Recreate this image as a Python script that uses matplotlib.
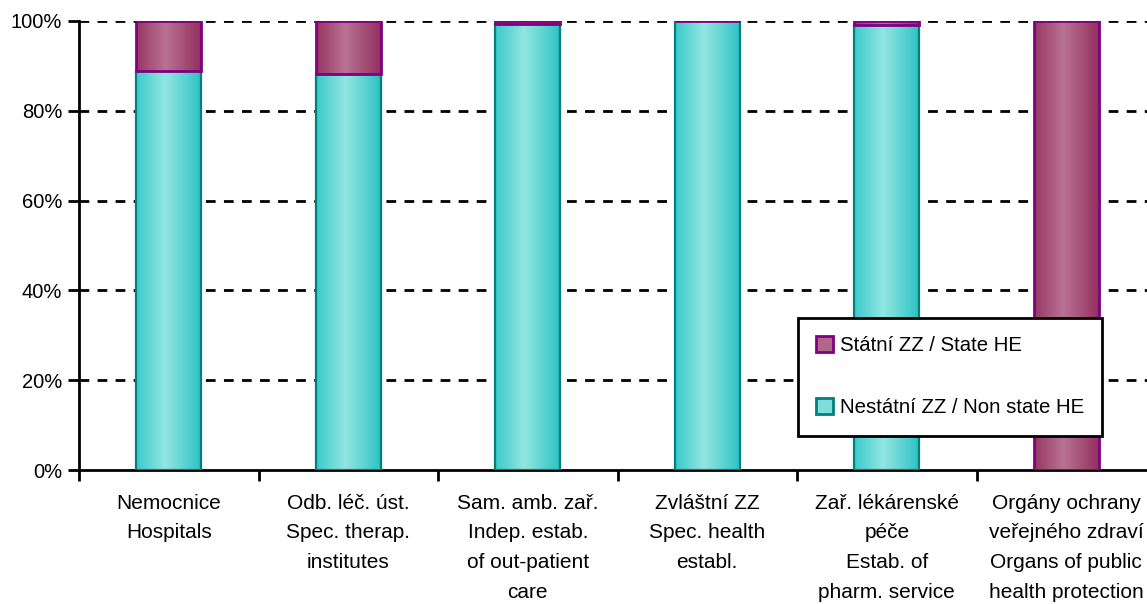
import numpy as np
import matplotlib.pyplot as plt
from matplotlib.colors import LinearSegmentedColormap
from matplotlib.patches import Patch
from matplotlib.ticker import FixedLocator, PercentFormatter

plt.rcParams['font.family'] = ['Liberation Sans', 'DejaVu Sans']

categories = [
    "Nemocnice\nHospitals",
    "Odb. léč. úst.\nSpec. therap.\ninstitutes",
    "Sam. amb. zař.\nIndep. estab.\nof out-patient\ncare",
    "Zvláštní ZZ\nSpec. health\nestabl.",
    "Zař. lékárenské\npéče\nEstab. of\npharm. service",
    "Orgány ochrany\nveřejného zdraví\nOrgans of public\nhealth protection",
]
non_state = [88.9, 88.2, 99.4, 100.0, 99.1, 0.0]
state = [11.1, 11.8, 0.6, 0.0, 0.9, 100.0]
labels = ["Státní ZZ / State HE", "Nestátní ZZ / Non state HE"]

cyan_cmap = LinearSegmentedColormap.from_list(
    "cy", [(0, "#3ACACA"), (0.45, "#92E6E2"), (0.9, "#40CACA"), (1, "#2EC0C0")])
purple_cmap = LinearSegmentedColormap.from_list(
    "pu", [(0, "#963562"), (0.45, "#B97294"), (0.9, "#9A3C68"), (1, "#913060")])

fig = plt.figure(figsize=(11.47, 6.04), dpi=100)
ax = fig.add_axes([79 / 1147, 134 / 604, 1077 / 1147, 449 / 604])

x = np.arange(len(categories)) + 0.5
width = 0.362
grad = np.linspace(0, 1, 256).reshape(1, -1)


def gradient_bars(bars, cmap):
    for b in bars:
        if b.get_height() <= 0:
            continue
        x0, y0 = b.get_x(), b.get_y()
        im = ax.imshow(grad, cmap=cmap, aspect="auto", zorder=b.get_zorder() - 0.1,
                       extent=[x0, x0 + b.get_width(), y0, y0 + b.get_height()])
        im.set_clip_path(b)


b1 = ax.bar(x, non_state, width, facecolor="none", edgecolor="#008080",
            linewidth=1.6, zorder=3)
b2 = ax.bar(x, state, width, bottom=non_state, facecolor="none",
            edgecolor="#800080", linewidth=2, zorder=4)
gradient_bars(b1, cyan_cmap)
gradient_bars(b2, purple_cmap)

ax.set_xlim(0, 6)
ax.set_ylim(0, 100)

for y in [20, 40, 60, 80, 100]:
    ax.axhline(y, color="black", linewidth=2, linestyle=(0, (3.5, 3)), zorder=1)

ax.spines["top"].set_visible(False)
ax.spines["right"].set_visible(False)
ax.spines["left"].set_linewidth(2)
ax.spines["bottom"].set_linewidth(2)

ax.yaxis.set_major_locator(FixedLocator([0, 20, 40, 60, 80, 100]))
ax.yaxis.set_major_formatter(PercentFormatter(decimals=0))
ax.tick_params(axis="y", direction="out", length=8, width=2, labelsize=14.5, pad=4)

ax.set_xticks(x)
ax.set_xticklabels(categories, fontsize=15, linespacing=1.72)
ax.set_xticks(np.arange(0, 7), minor=True)
ax.tick_params(axis="x", which="major", length=0, pad=17)
ax.tick_params(axis="x", which="minor", direction="out", length=8, width=2)

handles = [
    Patch(facecolor="#B06888", edgecolor="#800080", linewidth=2),
    Patch(facecolor="#80DEDA", edgecolor="#008080", linewidth=2),
]
leg = fig.legend(handles, labels, loc="upper left",
                 bbox_to_anchor=(798 / 1147, 1 - 318 / 604), borderaxespad=0,
                 fontsize=14.7, frameon=True, fancybox=False, framealpha=1,
                 edgecolor="black", borderpad=0.9, labelspacing=2.1,
                 handlelength=0.8, handleheight=0.8, handletextpad=0.35)
leg.get_frame().set_linewidth(2)

fig.savefig("out.png", dpi=100)
